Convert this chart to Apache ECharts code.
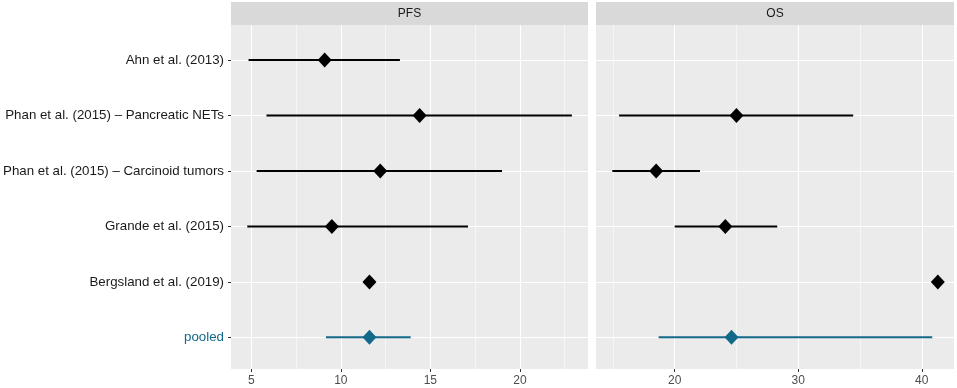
<!DOCTYPE html>
<html>
<head>
<meta charset="utf-8">
<script src="https://cdn.jsdelivr.net/npm/echarts@6/dist/echarts.min.js"></script>
<style>
  html, body { margin: 0; background: #fff; }
  #chart { width: 957px; height: 388px; }
</style>
</head>
<body>
<div id="chart"></div>
<script>
// studies, top to bottom
const studies = [
  'Ahn et al. (2013)',
  'Phan et al. (2015) – Pancreatic NETs',
  'Phan et al. (2015) – Carcinoid tumors',
  'Grande et al. (2015)',
  'Bergsland et al. (2019)',
  'pooled'
]
const rows = [1, 2, 3, 4, 5, 6]
const facets = ['PFS', 'OS']

// median (months) and interval ends, null = not reported
const pfsEst  = [9.1, 14.4, 12.2, 9.5, 11.6, 11.6]
const pfsLow  = [4.85, 5.85, 5.3, 4.78, null, 9.17]
const pfsHigh = [13.3, 22.9, 19.0, 17.1, null, 13.9]
const osEst   = [null, 25.0, 18.5, 24.1, 41.3, 24.6]
const osLow   = [null, 15.5, 14.95, 20.0, null, 18.7]
const osHigh  = [null, 34.45, 22.05, 28.3, null, 40.85]

// axis ticks
const pfsMajor = [5, 10, 15, 20]
const pfsMinor = [7.5, 12.5, 17.5, 22.5]
const osMajor = [20, 30, 40]
const osMinor = [15, 25, 35]

const TEAL = '#13698a'
const FONT = '"Liberation Sans", Arial, sans-serif'
const colorOf = i => studies[i] === 'pooled' ? TEAL : '#000'

const chart = echarts.init(document.getElementById('chart'), null, { renderer: 'canvas' })

function xAxisFor(idx, min, max, major) {
  return {
    type: 'value', gridIndex: idx, min: min, max: max,
    axisLine: { show: false },
    axisTick: { show: true, customValues: major, length: 3, lineStyle: { color: '#333', width: 1 } },
    axisLabel: {
      customValues: major, color: '#4D4D4D', fontSize: 12, fontFamily: FONT, margin: 6,
      formatter: v => major.includes(v) ? String(v) : ''
    },
    splitLine: { show: false }
  }
}

function yAxisFor(idx) {
  const first = idx === 0
  return {
    type: 'value', gridIndex: idx, inverse: true, min: 0.37, max: 6.57,
    axisLine: { show: false },
    axisTick: { show: first, customValues: rows, length: 3, lineStyle: { color: '#333', width: 1 } },
    axisLabel: {
      show: first, customValues: rows, color: '#1A1A1A', fontSize: 13.3, fontFamily: FONT, margin: 7,
      formatter: v => {
        const s = studies[v - 1]
        if (!s || !Number.isInteger(v)) return ''
        return s === 'pooled' ? '{p|pooled}' : s
      },
      rich: { p: { color: TEAL, fontSize: 13.3, fontFamily: FONT } }
    },
    splitLine: { show: false }
  }
}

// white panel grid lines
function gridLines(idx, major, minor) {
  return {
    type: 'line', xAxisIndex: idx, yAxisIndex: idx, data: [], z: 1, silent: true,
    markLine: {
      silent: true, symbol: ['none', 'none'], animation: false, z: 1,
      label: { show: false },
      lineStyle: { color: '#fff', type: 'solid', width: 1.1 },
      emphasis: { disabled: true },
      data: [
        ...minor.map(v => ({ xAxis: v, lineStyle: { color: '#fff', type: 'solid', width: 0.55 } })),
        ...major.map(v => ({ xAxis: v })),
        ...rows.map(v => ({ yAxis: v }))
      ]
    }
  }
}

function intervals(idx, low, high) {
  const data = []
  rows.forEach((r, i) => {
    if (low[i] != null && high[i] != null) data.push({ value: [low[i], high[i], r], color: colorOf(i) })
  })
  return {
    type: 'custom', xAxisIndex: idx, yAxisIndex: idx, z: 3, silent: true,
    encode: { x: [0, 1], y: 2 },
    data: data,
    renderItem(params, api) {
      const a = api.coord([api.value(0), api.value(2)])
      const b = api.coord([api.value(1), api.value(2)])
      return {
        type: 'line',
        shape: { x1: a[0], y1: a[1], x2: b[0], y2: b[1] },
        style: { stroke: data[params.dataIndex].color, lineWidth: 2 }
      }
    }
  }
}

function points(idx, est) {
  const data = []
  rows.forEach((r, i) => {
    if (est[i] != null) data.push({ value: [est[i], r], itemStyle: { color: colorOf(i), opacity: 1 } })
  })
  return {
    type: 'scatter', xAxisIndex: idx, yAxisIndex: idx, z: 4, silent: true,
    symbol: 'diamond', symbolSize: [14, 15],
    data: data
  }
}

const panels = [
  { left: 231, width: 357 },
  { left: 596, width: 358 }
]

chart.setOption({
  animation: false,
  backgroundColor: '#fff',
  textStyle: { fontFamily: FONT },
  grid: panels.map(p => ({
    left: p.left, width: p.width, top: 25, height: 344,
    show: true, backgroundColor: '#EBEBEB', borderWidth: 0
  })),
  xAxis: [
    xAxisFor(0, 3.87, 23.8, pfsMajor),
    xAxisFor(1, 13.63, 42.61, osMajor)
  ],
  yAxis: [yAxisFor(0), yAxisFor(1)],
  graphic: facets.flatMap((f, i) => [
    { type: 'rect', silent: true, shape: { x: panels[i].left, y: 2, width: panels[i].width, height: 23 }, style: { fill: '#D9D9D9' } },
    { type: 'text', silent: true, x: panels[i].left + panels[i].width / 2, y: 14,
      style: { text: f, align: 'center', verticalAlign: 'middle', fill: '#1A1A1A', font: '12px ' + FONT } }
  ]),
  series: [
    gridLines(0, pfsMajor, pfsMinor),
    gridLines(1, osMajor, osMinor),
    intervals(0, pfsLow, pfsHigh),
    intervals(1, osLow, osHigh),
    points(0, pfsEst),
    points(1, osEst)
  ]
})
</script>
</body>
</html>
